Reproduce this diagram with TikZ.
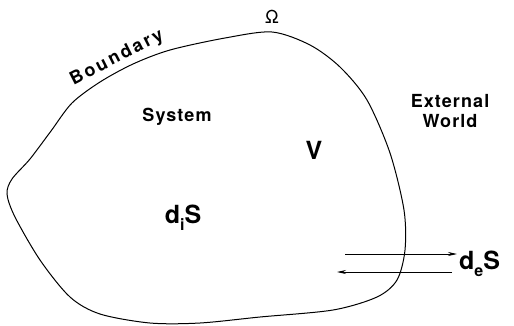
\documentclass[tikz,border=0pt]{standalone}
\usepackage{fontspec}
\setmainfont{TeX Gyre Heros}
\newfontfamily\lab[LetterSpace=6]{TeX Gyre Heros}
\newfontfamily\labw[LetterSpace=14]{TeX Gyre Heros}
\usetikzlibrary{arrows.meta}
\begin{document}
\begin{tikzpicture}[x=1pt,y=-1pt,
  txt/.style={inner sep=0pt, font=\lab\bfseries\fontsize{18}{20}\selectfont},
  big/.style={inner sep=0pt, font=\bfseries\fontsize{25}{28}\selectfont},
  flow/.style={line width=0.8pt, -{Stealth[length=9pt,width=4pt]}}]
\useasboundingbox (0,0) rectangle (514,325);
\draw[line width=1pt] plot[smooth cycle, tension=0.5] coordinates {
 (12,179) (30,159) (51,131) (72,103) (100,82) (133,64) (170,50) (225,38) (272,32) (310,45) (340,67)
 (367,100) (390,153) (404,210) (405,250) (397,280) (377,297) (333,310)
 (260,317) (200,323) (150,323) (100,314) (70,297) (40,260) (15,217) (7,194)};
\node[txt, font=\labw\bfseries\fontsize{18}{20}\selectfont, rotate=27] (bnd) at (117,58) {Boundary};
\node[inner sep=0pt, font=\fontsize{18}{20}\selectfont] (om) at (272,17) {Ω};
\node[txt] (sys) at (177,117) {System};
\node[txt, align=center] (ext) at (450,111) {External\\World};
\node[big] (v) at (314,150) {V};
\node[big] (di) at (183,218) {d\raisebox{-7pt}{\fontsize{16}{18}\selectfont i}S};
\node[big, anchor=west] (de) at (459,264) {d\raisebox{-7pt}{\fontsize{16}{18}\selectfont e}S};
\coordinate (a1) at (345,254);
\coordinate (a2) at (457,254);
\coordinate (b1) at (452,272);
\coordinate (b2) at (337,272);
\draw[flow] (a1) -- (a2);
\draw[flow] (b1) -- (b2);
\end{tikzpicture}
\end{document}
